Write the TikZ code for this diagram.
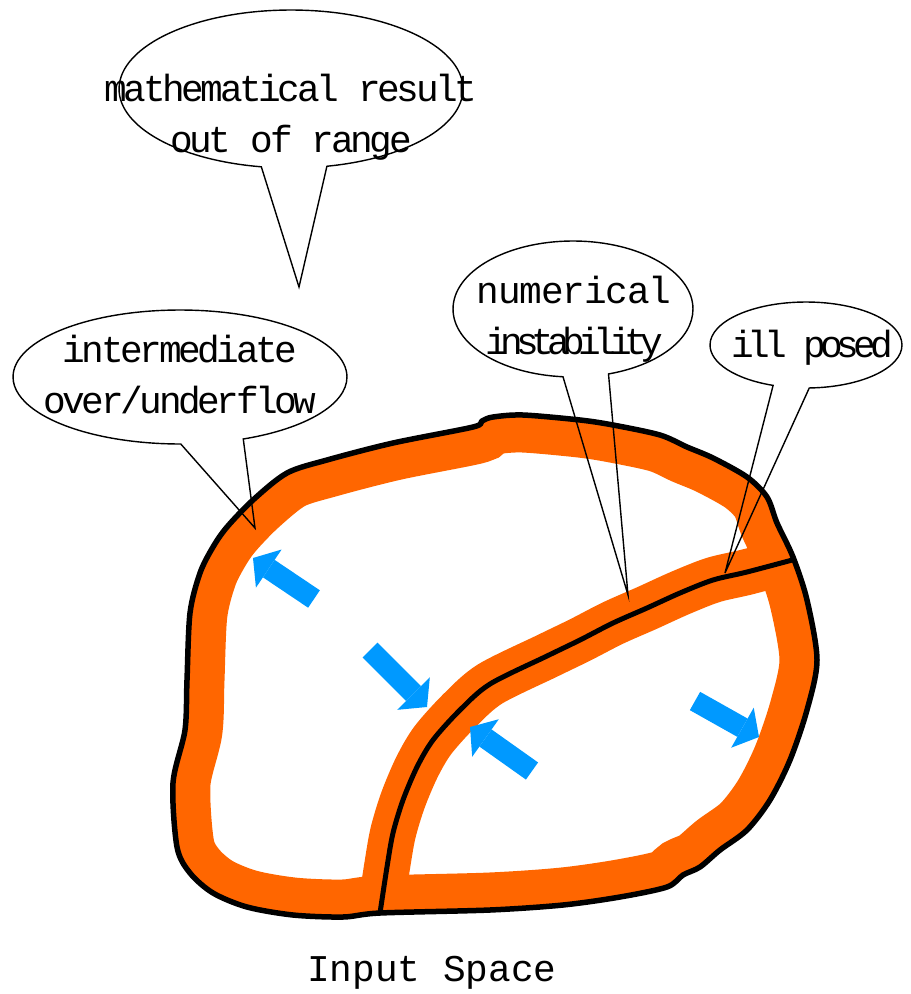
\documentclass[tikz,border=0pt]{standalone}
\usepackage{fontspec}
\newfontfamily\bubblefont[LetterSpace=-9]{Liberation Mono}
\newfontfamily\spacefont{Liberation Mono}
\usetikzlibrary{arrows.meta,shapes.geometric,shapes.callouts}

\definecolor{bandorange}{RGB}{255,102,0}
\definecolor{arrowblue}{RGB}{0,153,255}

\newcommand{\squeeze}[2]{{\addfontfeature{LetterSpace=#1}#2}}

% outline of the input space
\newcommand{\blobline}{plot[smooth cycle, tension=0.5] coordinates {
  (493,417) (523,415) (580,420) (613,425) (660,435) (687,447) (713,458)
  (747,477) (767,497) (777,523) (793,557) (807,600) (817,660) (807,710)
  (790,760) (770,800) (747,830) (720,850) (700,867) (683,875) (667,887)
  (620,897) (563,905) (490,910) (380,913) (343,917) (293,915) (247,907)
  (213,893) (190,873) (177,847) (173,783) (185,730) (187,680) (190,613)
  (200,573) (213,547) (227,527) (253,500) (287,473) (327,460) (393,443)
  (473,427) (482,421)}}
% boundary between the two regions
\newcommand{\splitline}{plot[smooth, tension=0.5] coordinates {
  (380,913) (387,867) (393,833) (403,800) (417,767) (433,740) (460,710)
  (490,684) (547,656) (580,640) (613,623) (647,608) (680,593) (713,580)
  (747,572) (796,559)}}

\begin{document}
\begin{tikzpicture}[x=0.02cm, y=-0.02cm,
    bubble/.style={ellipse callout, draw, line width=0.8pt, inner sep=0pt, callout pointer arc=22},
    bubbletext/.style={font=\bubblefont\fontsize{21.5}{29}\selectfont, align=center, inner sep=0pt},
    flow/.style={draw=arrowblue, line width=0.42cm, -{Triangle[length=0.38cm, width=0.92cm, line width=0pt]}}]
    \useasboundingbox (0,0) rectangle (910,994);

    % orange band along the border and the split
    \begin{scope}
        \clip \blobline;
        \draw[bandorange, line width=1.5cm] \blobline;
        \draw[bandorange, line width=0.92cm] \splitline;
    \end{scope}
    \draw[line width=0.11cm, line join=round] \blobline;
    \draw[line width=0.1cm, line join=round] \splitline;

    % blue arrows
    \coordinate (flowa) at (314,599); \coordinate (flowaend) at (253,558);
    \coordinate (flowb) at (370,650); \coordinate (flowbend) at (427,707);
    \coordinate (flowc) at (532,771); \coordinate (flowcend) at (470,727);
    \coordinate (flowd) at (695,701); \coordinate (flowdend) at (759,737);
    \draw[flow] (flowa) -- (flowaend);
    \draw[flow] (flowb) -- (flowbend);
    \draw[flow] (flowc) -- (flowcend);
    \draw[flow] (flowd) -- (flowdend);

    % callouts
    \coordinate (rangetip) at (299,287);
    \coordinate (flowtip) at (255,528);
    \coordinate (unstabletip) at (628,595);
    \coordinate (posedtip) at (725,573);

    \node[bubble, minimum width=6.88cm, minimum height=3.16cm,
        callout absolute pointer={(rangetip)}] (rangebubble) at (291,89) {};
    \node[bubble, minimum width=6.68cm, minimum height=2.68cm,
        callout absolute pointer={(flowtip)}] (flowbubble) at (180,377) {};
    \node[bubble, minimum width=4.8cm, minimum height=2.72cm,
        callout absolute pointer={(unstabletip)}] (unstablebubble) at (573,309) {};
    \node[bubble, minimum width=3.84cm, minimum height=1.72cm,
        callout absolute pointer={(posedtip)}] (posedbubble) at (806,345) {};

    \node[bubbletext] (rangetext) at (291,117) {mathematical result\\out of range};
    \node[bubbletext] (flowtext) at (180,375) {intermediate\\over/underflow};
    \node[bubbletext] (unstabletext) at (574,319) {\squeeze{-3}{numerical}\\\squeeze{-19}{instability}};
    \node[bubbletext, anchor=base] (posedtext) at (812,357) {\squeeze{-16}{ill posed}};

    \node[font=\spacefont\fontsize{21.5}{26}\selectfont, anchor=base] (spacelabel) at (432,981) {Input Space};
\end{tikzpicture}
\end{document}
